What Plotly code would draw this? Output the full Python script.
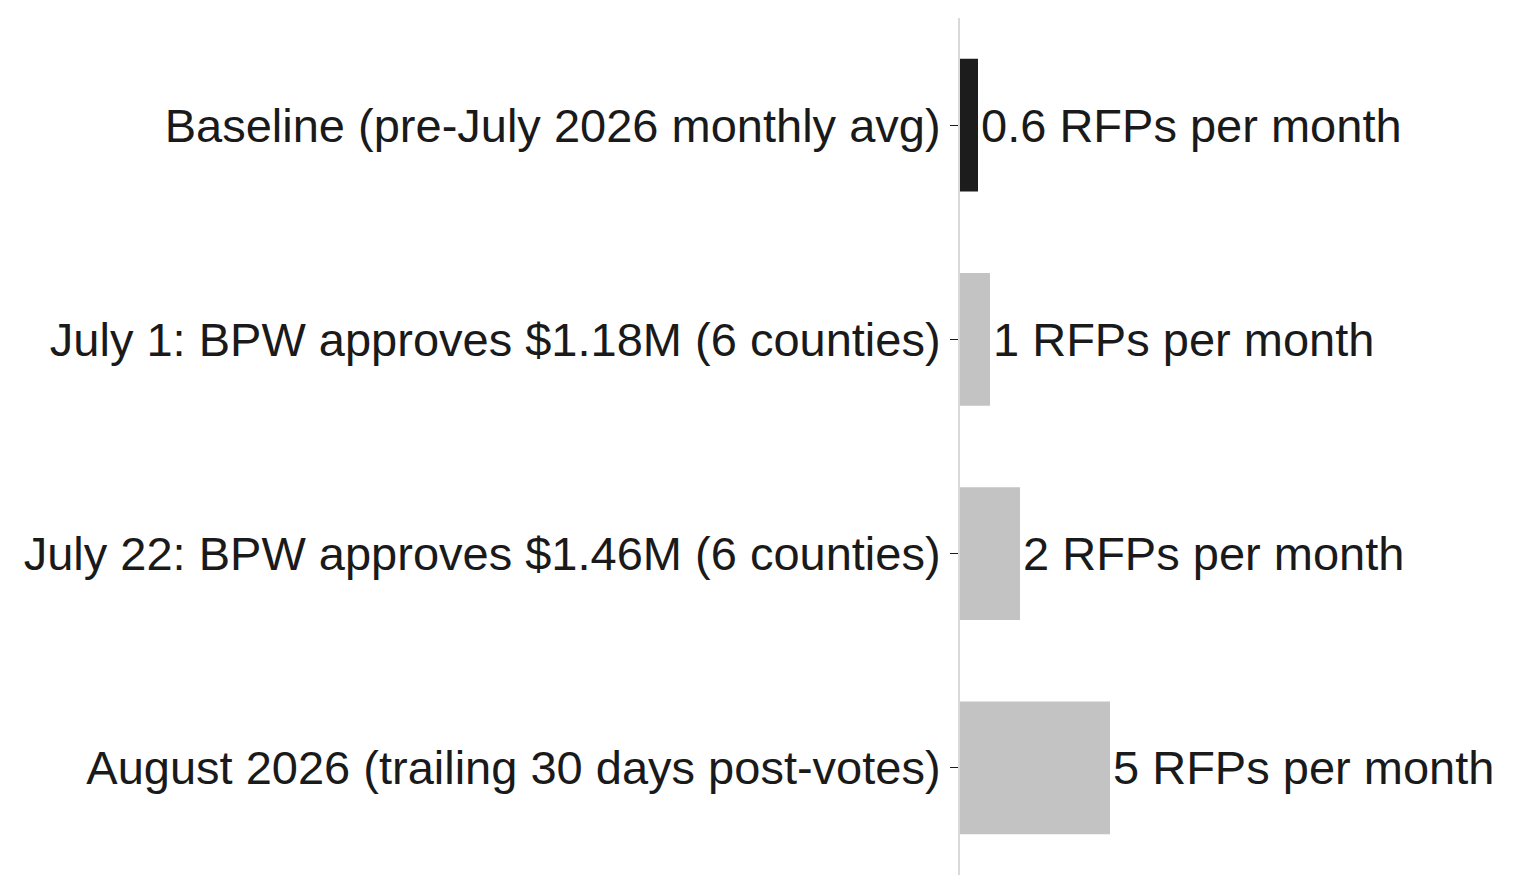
import plotly.graph_objects as go

# data
stages = [
    "Baseline (pre-July 2026 monthly avg)",
    "July 1: BPW approves $1.18M (6 counties)",
    "July 22: BPW approves $1.46M (6 counties)",
    "August 2026 (trailing 30 days post-votes)",
]
rfps_per_month = [0.6, 1, 2, 5]
value_labels = ["0.6 RFPs per month", "1 RFPs per month", "2 RFPs per month", "5 RFPs per month"]

bar_colors = ["#1c1c1c", "#c3c3c3", "#c3c3c3", "#c3c3c3"]

fig = go.Figure()
fig.add_trace(go.Bar(
    x=rfps_per_month,
    y=stages,
    orientation="h",
    marker=dict(color=bar_colors, line=dict(width=0)),
    text=value_labels,
    textposition="outside",
    textfont=dict(size=47, color="#1a1a1a"),
    cliponaxis=False,
    hoverinfo="skip",
))

fig.update_layout(
    width=1515,
    height=895,
    margin=dict(l=952, r=20, t=10, b=28),
    paper_bgcolor="white",
    plot_bgcolor="white",
    font=dict(family="Liberation Sans, Arial, Helvetica, sans-serif", size=47, color="#1a1a1a"),
    bargap=0.38,
    showlegend=False,
)

fig.update_xaxes(
    range=[0, 18.1],
    showgrid=False,
    zeroline=False,
    showticklabels=False,
    ticks="",
    showline=False,
)
fig.update_yaxes(
    autorange="reversed",
    showgrid=False,
    showline=True,
    linecolor="#d9d9d9",
    linewidth=2,
    ticks="outside",
    ticklen=8,
    tickcolor="#1a1a1a",
    tickwidth=1,
)

fig.write_html("out.html")
